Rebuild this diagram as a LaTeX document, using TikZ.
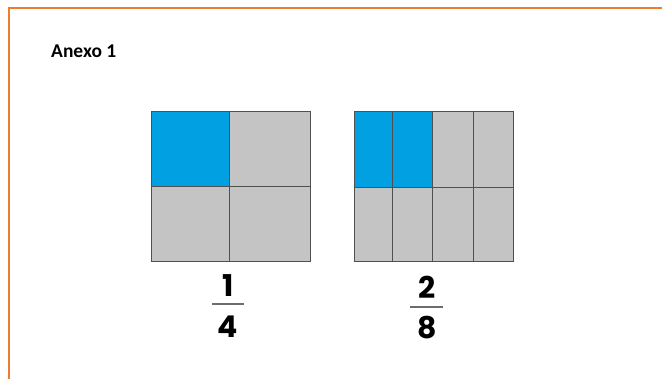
\documentclass[tikz,border=0pt]{standalone}
\usepackage{fontspec}
\setmainfont{Carlito}
\newfontfamily\digitfont{Poppins}[UprightFont=* Bold]
\definecolor{frameorange}{HTML}{ED7D31}
\definecolor{partblue}{HTML}{00A0E3}
\definecolor{partgray}{HTML}{C4C4C4}
\definecolor{gridline}{HTML}{505050}
\tikzset{
  cellline/.style={draw=gridline, line width=0.8pt},
  numtext/.style={font=\digitfont\fontsize{30}{30}\selectfont, inner sep=0pt},
  fracbar/.style={draw=gray!85!black, line width=1.8pt}
}
\begin{document}
\begin{tikzpicture}[x=1pt,y=-1pt]
\useasboundingbox (0,0) rectangle (662,379);
\fill[white] (0,0) rectangle (662,379);
% frame
\draw[frameorange, line width=1.8pt] (9,379) -- (9,8) -- (662,8);
\node[anchor=west, font=\bfseries\fontsize{19.5}{19.5}\selectfont, inner sep=0pt] (title) at (51,51) {Anexo 1};
% first square 1/4
\fill[partgray] (151,111) rectangle (310,261);
\fill[partblue] (151,111) rectangle (229,186);
\draw[cellline] (151,111) rectangle (310,261);
\draw[cellline] (229,111) -- (229,261);
\draw[cellline] (151,186) -- (310,186);
% second square 2/8
\fill[partgray] (354,111) rectangle (513,261);
\fill[partblue] (354,111) rectangle (432,187);
\draw[cellline] (354,111) rectangle (513,261);
\foreach \xx in {392,432,473} \draw[cellline] (\xx,111) -- (\xx,261);
\draw[cellline] (354,187) -- (513,187);
% fractions
\node[numtext] (n1) at (228,286) {1};
\node[numtext] (d1) at (228,327) {4};
\coordinate (b1l) at (212,304);
\coordinate (b1r) at (244,304);
\draw[fracbar] (b1l) -- (b1r);
\node[numtext] (n2) at (427,287) {2};
\node[numtext] (d2) at (427,328) {8};
\coordinate (b2l) at (410,307);
\coordinate (b2r) at (443,307);
\draw[fracbar] (b2l) -- (b2r);
\end{tikzpicture}
\end{document}
